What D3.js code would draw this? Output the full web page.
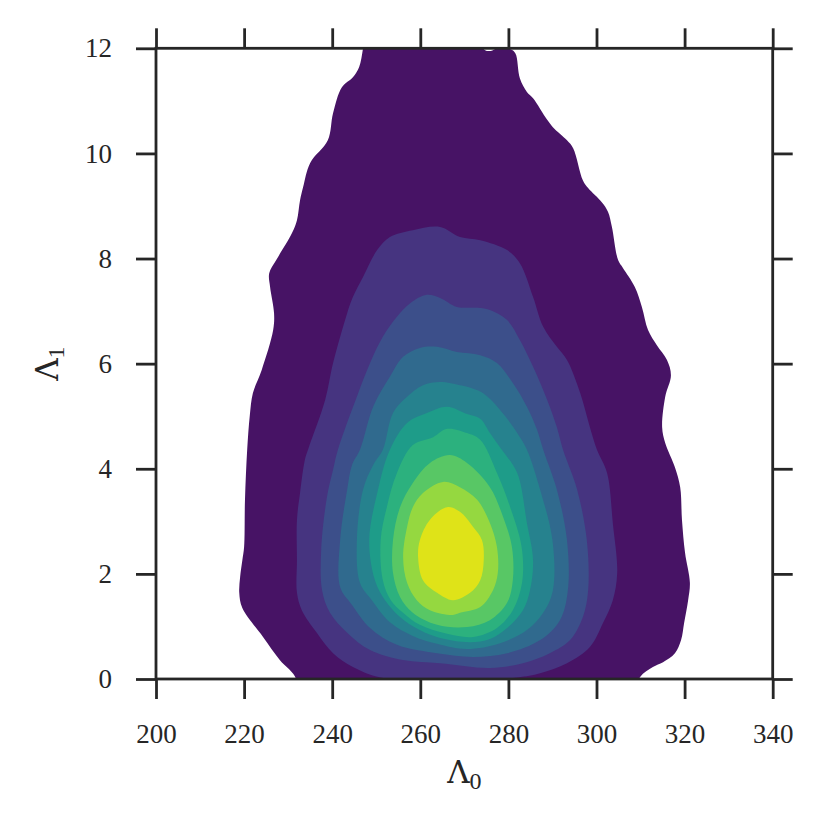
<!DOCTYPE html>
<html>
<head>
<meta charset="utf-8">
<script src="https://cdn.jsdelivr.net/npm/d3@7"></script>
<style>
  body { margin: 0; background: #fff; }
  text { font-family: "Liberation Serif", "DejaVu Serif", serif; fill: #262626; }
  .greek { font-family: "DejaVu Serif", serif; font-style: normal; }
</style>
</head>
<body>
<div id="chart"></div>
<script>
const xTicks = [200, 220, 240, 260, 280, 300, 320, 340]
const yTicks = [0, 2, 4, 6, 8, 10, 12]

// viridis position of each filled band, lowest band first
const levelColors = [0.05, 0.15, 0.24, 0.34, 0.44, 0.55, 0.64, 0.74, 0.84, 0.95]

// contour outlines, [Λ0, Λ1]
const level1 = [[231.0,-0.4],[231.8,0.0],[228.1,0.36],[224.3,0.80],[219.6,1.35],[218.9,1.64],[219.1,1.94],[219.6,2.26],[220.0,2.51],[220.2,3.41],[220.7,4.36],[221.3,5.02],[222.0,5.44],[224.0,5.88],[226.6,6.64],[226.8,6.96],[225.9,7.46],[225.7,7.72],[227.3,7.97],[230.9,8.49],[232.0,8.73],[232.7,9.11],[233.4,9.36],[235.0,9.82],[239.0,10.25],[240.2,10.77],[242.2,11.26],[244.7,11.45],[246.1,11.64],[247.0,12.0],[247.6,12.4],[262,12.4],[272.5,12.2],[274.6,11.97],[276.0,11.95],[277.5,12.0],[280.5,11.98],[281.6,11.9],[282.6,11.43],[284.2,11.17],[285.6,11.05],[288.8,10.64],[290.1,10.50],[293.3,10.25],[294.7,10.10],[296.9,9.49],[298.1,9.34],[301.2,9.07],[302.6,8.89],[303.5,8.60],[304.9,7.97],[306.0,7.82],[308.7,7.46],[310.3,7.08],[311.7,6.64],[313.7,6.35],[316.0,6.07],[316.9,5.78],[315.6,5.37],[314.9,4.79],[315.6,4.49],[317.8,4.03],[319.0,3.65],[319.4,3.03],[320.1,2.40],[321.2,1.83],[320.8,1.50],[319.9,1.07],[319.2,0.74],[317.8,0.49],[315.1,0.32],[312.8,0.23],[309.9,0.04],[308.0,-0.4],[270,-0.6]]
const level2 = [[266,-0.05],[251.0,0.03],[244.7,0.23],[240.2,0.49],[236.5,0.88],[233.1,1.31],[232.0,1.64],[232.0,2.26],[232.0,3.03],[232.7,3.54],[233.8,4.17],[234.7,4.41],[238.4,5.31],[240.2,6.01],[243.4,6.96],[244.7,7.27],[247.0,7.65],[250.2,8.16],[253.1,8.41],[258.3,8.54],[264.5,8.60],[269.0,8.41],[273.6,8.35],[279.7,8.16],[282.6,7.91],[285.6,7.27],[287.9,6.70],[291.0,6.32],[293.3,6.07],[296.3,5.44],[298.5,4.79],[300.1,4.36],[302.4,3.92],[303.7,2.97],[304.7,2.02],[303.7,1.50],[301.5,1.07],[298.5,0.61],[293.3,0.30],[287.2,0.11],[282.0,0.03]]
const level3 = [[241.3,4.36],[245.6,5.37],[248.6,6.01],[251.5,6.51],[254.7,6.89],[257.7,7.15],[261.5,7.31],[264.5,7.25],[268.3,7.08],[273.6,7.06],[275.8,7.02],[279.7,6.83],[282.6,6.45],[285.6,5.94],[288.8,5.31],[291.0,4.79],[292.4,4.36],[295.6,3.60],[297.8,2.64],[298.1,1.69],[296.9,1.18],[294.0,0.74],[289.4,0.49],[283.3,0.30],[275.8,0.21],[264.5,0.30],[256.1,0.36],[248.6,0.55],[243.4,0.88],[239.5,1.26],[237.7,1.69],[237.5,2.45],[238.8,3.46],[240.2,3.98]]
const level4 = [[246.3,4.36],[249.3,5.18],[253.1,5.75],[256.1,6.13],[259.9,6.30],[263.8,6.32],[268.3,6.22],[273.6,6.16],[277.4,6.01],[281.0,5.63],[284.2,5.18],[286.5,4.74],[287.9,4.36],[291.0,3.60],[293.3,2.64],[293.5,1.69],[291.7,1.12],[287.2,0.74],[279.7,0.49],[272.0,0.42],[263.8,0.49],[254.7,0.65],[248.6,0.97],[244.5,1.41],[241.8,1.75],[241.8,2.64],[243.4,3.60],[244.5,4.07]]
const level5 = [[251.5,4.36],[253.8,5.06],[257.0,5.37],[260.6,5.59],[264.5,5.65],[269.0,5.59],[270.6,5.56],[274.2,5.44],[278.1,5.12],[282.0,4.68],[284.2,4.36],[287.2,3.60],[290.0,2.64],[290.1,1.69],[287.9,1.26],[284.2,0.93],[278.1,0.68],[270.6,0.57],[263.8,0.67],[258.3,0.82],[253.1,1.08],[249.0,1.50],[246.3,1.83],[245.6,2.64],[247.0,3.60],[249.3,4.07]]
const level6 = [[253.1,4.36],[257.0,4.87],[261.5,5.06],[266.1,5.18],[270.6,5.04],[273.6,4.95],[275.8,4.68],[278.5,4.36],[282.0,3.92],[284.2,2.97],[285.6,2.26],[284.9,1.69],[283.3,1.31],[279.7,0.97],[275.8,0.76],[271.3,0.70],[264.5,0.78],[259.9,0.93],[255.4,1.18],[252.0,1.50],[249.7,1.88],[248.4,2.64],[250.4,3.60]]
const level7 = [[258.3,4.45],[262.9,4.60],[266.1,4.76],[270.6,4.68],[273.6,4.55],[277.4,3.92],[280.4,3.27],[283.0,2.51],[283.1,1.83],[281.0,1.31],[277.4,0.97],[272.0,0.80],[266.1,0.86],[259.9,1.03],[256.1,1.26],[253.3,1.50],[251.5,1.88],[251.0,2.64],[252.4,3.27],[254.7,3.92]]
const level8 = [[266.7,4.26],[270.6,4.11],[275.8,3.65],[278.8,3.08],[280.8,2.51],[281.0,1.88],[279.7,1.45],[275.8,1.12],[270.6,0.99],[263.8,1.03],[258.3,1.26],[255.4,1.56],[253.8,2.02],[253.8,2.64],[255.4,3.27],[258.3,3.73],[262.2,4.11]]
const level9 = [[265.2,3.75],[269.0,3.65],[272.9,3.41],[275.8,2.97],[277.4,2.51],[277.6,2.02],[276.5,1.69],[273.6,1.37],[269.0,1.26],[267.4,1.22],[262.2,1.31],[259.2,1.50],[257.0,1.83],[256.1,2.32],[257.0,2.89],[258.3,3.27],[260.6,3.54]]
const level10 = [[266.1,3.27],[269.0,3.18],[272.0,2.89],[274.0,2.64],[274.4,2.26],[273.6,1.88],[271.3,1.64],[267.4,1.50],[263.8,1.64],[260.6,1.88],[259.5,2.32],[259.9,2.64],[262.2,3.03]]

const levels = [level1, level2, level3, level4, level5, level6, level7, level8, level9, level10]

const W = 831, H = 831
const plot = { left: 156, right: 772.7, top: 48.3, bottom: 679 }

const x = d3.scaleLinear().domain([200, 340]).range([plot.left, plot.right])
const y = d3.scaleLinear().domain([0, 12]).range([plot.bottom, plot.top])

const svg = d3.select("#chart").append("svg")
    .attr("width", W)
    .attr("height", H)

svg.append("clipPath").attr("id", "clip")
  .append("rect")
    .attr("x", plot.left).attr("y", plot.top)
    .attr("width", plot.right - plot.left)
    .attr("height", plot.bottom - plot.top)

const line = d3.line()
    .x(d => x(d[0]))
    .y(d => y(d[1]))
    .curve(d3.curveCatmullRomClosed.alpha(0.5))

svg.append("g")
    .attr("clip-path", "url(#clip)")
  .selectAll("path")
  .data(levels)
  .enter().append("path")
    .attr("d", line)
    .attr("fill", (d, i) => d3.interpolateViridis(levelColors[i]))
    .attr("stroke", "none")

// axes: ticks on all four sides, pointing outward
const tickLen = 20
const styleAxis = g => {
  g.select(".domain").remove()
  g.selectAll(".tick line").attr("stroke", "#262626").attr("stroke-width", 2.8)
  g.selectAll(".tick text").style("font-size", "27px").attr("fill", "#262626")
}

svg.append("g")
    .attr("transform", "translate(0," + plot.bottom + ")")
    .call(d3.axisBottom(x).tickValues(xTicks).tickSize(tickLen).tickPadding(25).tickFormat(d3.format("d")))
    .call(styleAxis)

svg.append("g")
    .attr("transform", "translate(" + plot.left + ",0)")
    .call(d3.axisLeft(y).tickValues(yTicks).tickSize(tickLen).tickPadding(24).tickFormat(d3.format("d")))
    .call(styleAxis)

svg.append("g")
    .attr("transform", "translate(0," + plot.top + ")")
    .call(d3.axisTop(x).tickValues(xTicks).tickSize(tickLen).tickFormat(""))
    .call(styleAxis)

svg.append("g")
    .attr("transform", "translate(" + plot.right + ",0)")
    .call(d3.axisRight(y).tickValues(yTicks).tickSize(tickLen).tickFormat(""))
    .call(styleAxis)

svg.selectAll("g").attr("font-family", null)

// frame
svg.append("rect")
    .attr("x", plot.left).attr("y", plot.top)
    .attr("width", plot.right - plot.left)
    .attr("height", plot.bottom - plot.top)
    .attr("fill", "none")
    .attr("stroke", "#262626")
    .attr("stroke-width", 2.8)

// axis labels
const xl = svg.append("text")
    .attr("x", (plot.left + plot.right) / 2)
    .attr("y", 783)
    .attr("text-anchor", "middle")
xl.append("tspan").attr("class", "greek").style("font-size", "31px").text("Λ")
xl.append("tspan").attr("dy", 6).style("font-size", "24px").text("0")

const yl = svg.append("text")
    .attr("transform", "translate(58," + ((plot.top + plot.bottom) / 2) + ") rotate(-90)")
    .attr("text-anchor", "middle")
yl.append("tspan").attr("class", "greek").style("font-size", "31px").text("Λ")
yl.append("tspan").attr("dy", 6).style("font-size", "24px").text("1")
</script>
</body>
</html>
